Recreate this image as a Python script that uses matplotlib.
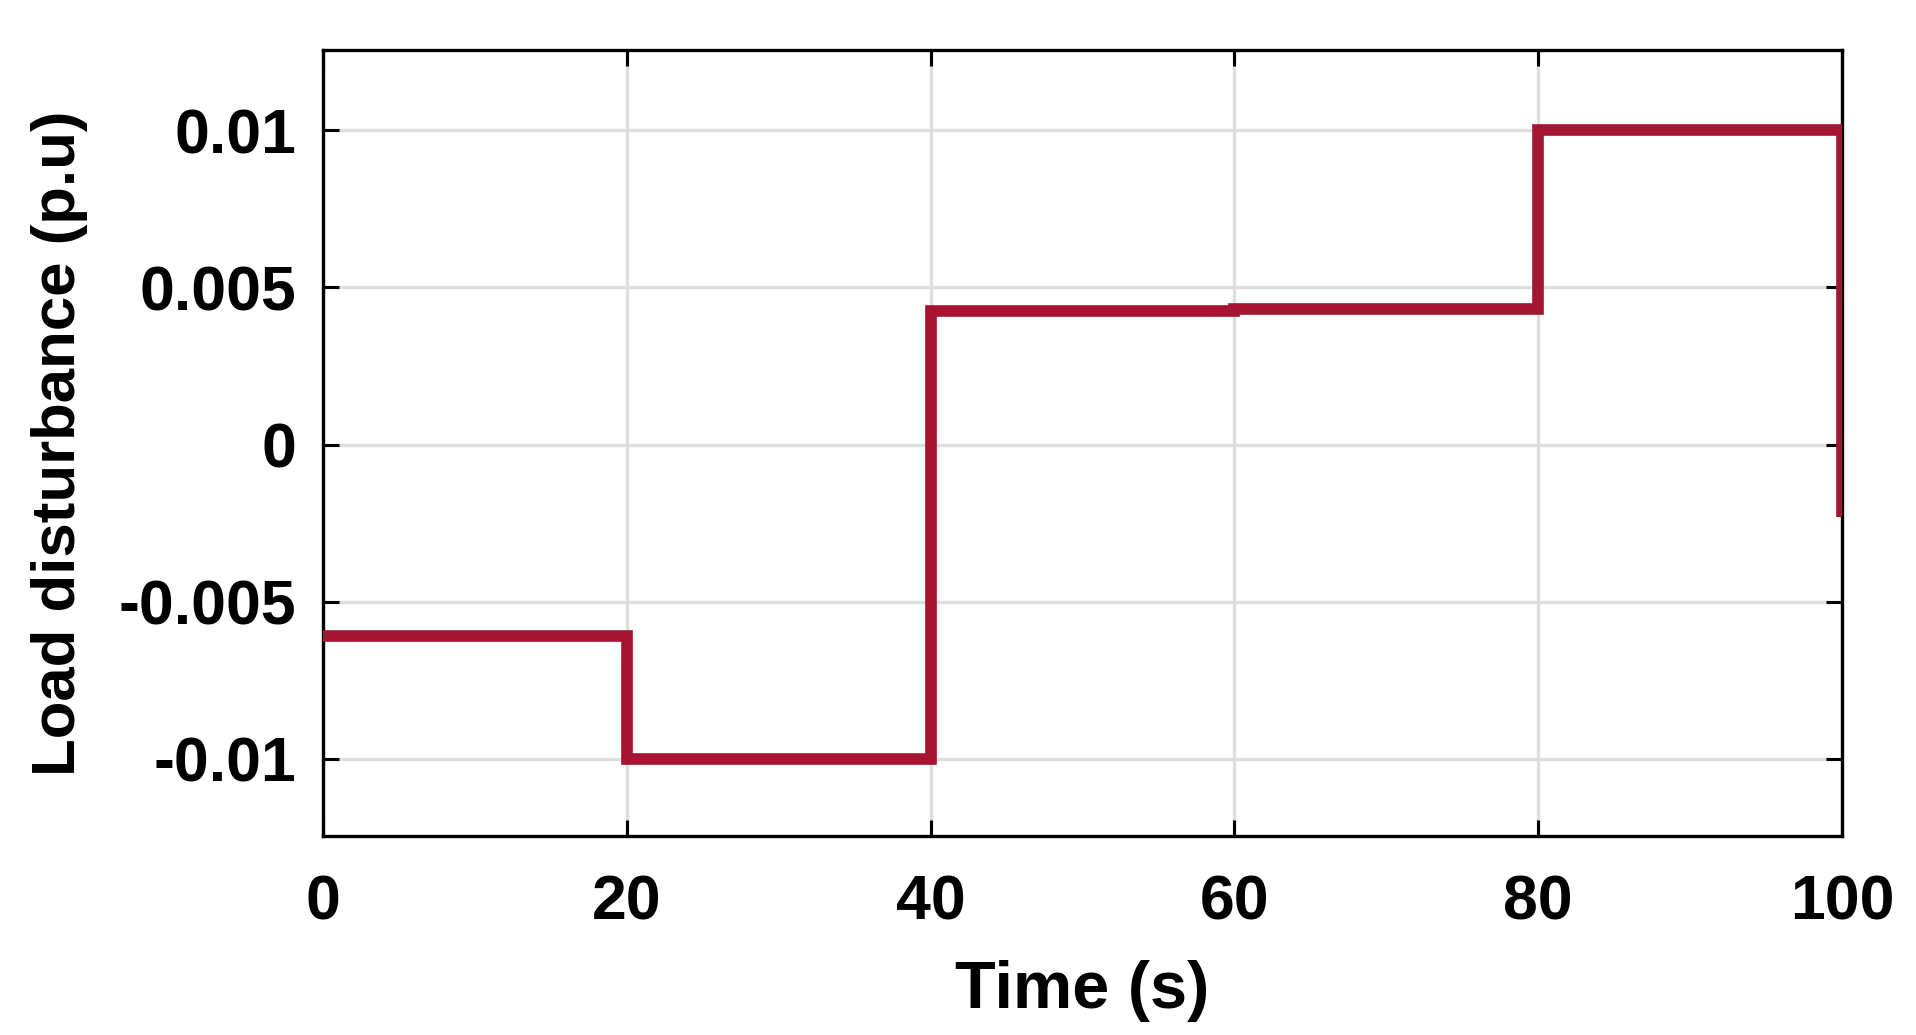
import matplotlib
matplotlib.use("Agg")
import matplotlib.pyplot as plt

# Data
time_s = [0, 20, 40, 60, 80, 100, 100]
load_pu = [-0.0061, -0.0100, 0.00426, 0.00430, 0.0100, 0.0100, -0.0023]

x_ticks = [0, 20, 40, 60, 80, 100]
x_tick_labels = ["0", "20", "40", "60", "80", "100"]
y_ticks = [-0.01, -0.005, 0, 0.005, 0.01]
y_tick_labels = ["-0.01", "-0.005", "0", "0.005", "0.01"]

plt.rcParams['font.family'] = ['Liberation Sans', 'DejaVu Sans']
plt.rcParams['font.weight'] = 'bold'

fig = plt.figure(figsize=(19.16, 10.35), dpi=100)
ax = fig.add_axes([0.1686, 0.1923, 0.9614 - 0.1686, 0.9517 - 0.1923])

ax.plot(time_s, load_pu, drawstyle='steps-post', color='#A51531',
        linewidth=8.4, solid_joinstyle='miter', solid_capstyle='butt', zorder=3)

ax.set_xlim(0, 100)
ax.set_ylim(-0.01245, 0.01255)
ax.set_xticks(x_ticks)
ax.set_xticklabels(x_tick_labels)
ax.set_yticks(y_ticks)
ax.set_yticklabels(y_tick_labels)

ax.grid(True, color='#DEDEDE', linewidth=2.4, zorder=0)
ax.set_axisbelow(True)

for s in ax.spines.values():
    s.set_linewidth(2.4)
    s.set_color('black')

ax.tick_params(axis='both', which='major', direction='in', length=11.5, width=2.2,
               top=True, right=True, labelsize=45, colors='black')
ax.tick_params(axis='x', pad=27)
ax.tick_params(axis='y', pad=19.5)
for lab in ax.get_xticklabels() + ax.get_yticklabels():
    lab.set_fontweight('bold')

ax.set_xlabel('Time (s)', fontsize=48, fontweight='bold')
ax.set_ylabel('Load disturbance (p.u)', fontsize=44.5, fontweight='bold')
ax.xaxis.set_label_coords(0.5, -0.1575)
ax.yaxis.set_label_coords(-0.155, 0.5)

fig.savefig('out.png', dpi=100, facecolor='white')
